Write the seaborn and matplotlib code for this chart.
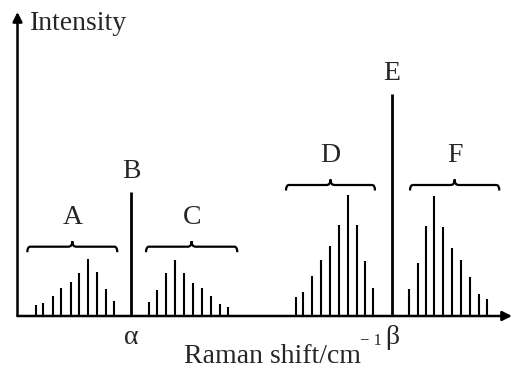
import numpy as np
import pandas as pd
import matplotlib
matplotlib.use("Agg")
import matplotlib.pyplot as plt
from matplotlib.path import Path
from matplotlib.patches import PathPatch
import seaborn as sns

# Raman shift positions (arbitrary units) and intensities of each band group
a_shift = [35.7, 43.3, 52.7, 61.3, 70.7, 79.3, 88.3, 97.0, 105.7, 113.7]
a_int = [10.7, 12.7, 19.7, 27.7, 34.0, 43.3, 57.0, 43.7, 26.7, 14.7]
c_shift = [149.0, 157.3, 166.0, 174.7, 183.7, 192.7, 201.7, 210.7, 219.7, 227.7]
c_int = [14.0, 25.7, 42.7, 56.0, 42.7, 33.3, 27.7, 19.7, 12.0, 9.3]
d_shift = [295.7, 303.3, 312.3, 321.0, 330.0, 339.3, 348.3, 357.0, 365.3, 373.3]
d_int = [19.0, 24.0, 40.0, 56.5, 70.5, 91.0, 121.0, 91.0, 55.0, 28.5]
f_shift = [409.3, 417.7, 426.0, 434.3, 443.0, 452.3, 461.0, 470.0, 479.0, 487.0]
f_int = [27.0, 53.0, 90.0, 120.0, 89.0, 68.5, 56.5, 39.0, 22.0, 17.0]
line_names = ["B", "E"]
line_shift = [131.3, 392.0]
line_int = [124.0, 222.0]
line_ticks = ["α", "β"]

# brace spans for the groups
brace_names = ["A", "C", "D", "F"]
brace_lo = [27.3, 146.0, 286.0, 410.0]
brace_hi = [117.3, 237.3, 375.0, 499.3]
brace_y = [69.3, 69.3, 131.0, 131.0]

df = pd.concat([
    pd.DataFrame({"shift": s, "intensity": i, "group": g})
    for s, i, g in [(a_shift, a_int, "A"), (c_shift, c_int, "C"),
                    (d_shift, d_int, "D"), (f_shift, f_int, "F")]
])

sns.set_theme(style="white")
plt.rcParams["font.family"] = ["Liberation Serif", "DejaVu Serif"]

fig = plt.figure(figsize=(5.13, 3.70), dpi=100)
W, H = 513, 370
x0, x1, yb, yt = 17.5, 512, 316, 12
ax = fig.add_axes([x0 / W, (H - yb) / H, (x1 - x0) / W, (yb - yt) / H])
ax.set_xlim(x0, x1)
ax.set_ylim(0, yb - yt)
ax.axis("off")

# satellite sticks
ax.vlines(df["shift"], 0, df["intensity"], color="black", lw=1.5)
# strong lines B and E
ax.vlines(line_shift, 0, line_int, color="black", lw=2.0)
for n, s, v in zip(line_names, line_shift, line_int):
    ax.text(s, v + 20, n, ha="center", va="center", fontsize=20)
for t, s in zip(line_ticks, line_shift):
    ax.text(s, -21, t, ha="center", va="center", fontsize=20, clip_on=False)


def brace(lo, hi, y, name):
    mid = (lo + hi) / 2
    h = 5.5
    verts = [
        (lo, y - h), (lo, y), (lo + 3, y),
        (mid - 4, y), (mid, y), (mid, y + h),
        (mid, y), (mid + 4, y), (hi - 3, y),
        (hi, y), (hi, y - h),
    ]
    codes = [Path.MOVETO, Path.CURVE3, Path.CURVE3,
             Path.LINETO, Path.CURVE3, Path.CURVE3,
             Path.CURVE3, Path.CURVE3, Path.LINETO,
             Path.CURVE3, Path.CURVE3]
    ax.add_patch(PathPatch(Path(verts, codes), fill=False, lw=1.6, ec="black"))
    ax.text(mid, y + 29, name, ha="center", va="center", fontsize=20)


for n, lo, hi, y in zip(brace_names, brace_lo, brace_hi, brace_y):
    brace(lo, hi, y, n)

# axes with arrows
arrow = dict(arrowstyle="-|>", lw=1.8, color="black", mutation_scale=14,
             shrinkA=0, shrinkB=0)
ax.annotate("", xy=(0, 1), xytext=(0, 0), xycoords="axes fraction",
            arrowprops=arrow, annotation_clip=False)
ax.annotate("", xy=(1, 0), xytext=(0, 0), xycoords="axes fraction",
            arrowprops=arrow, annotation_clip=False)

ax.text(30, yb - 24, "Intensity", ha="left", va="center",
        fontsize=20, clip_on=False)
ax.text(184, -47, "Raman shift/cm", ha="left", va="baseline",
        fontsize=20, clip_on=False)
ax.text(371, -25, "− 1", ha="center", va="center", fontsize=12, clip_on=False)

fig.savefig("out.png", dpi=100)
